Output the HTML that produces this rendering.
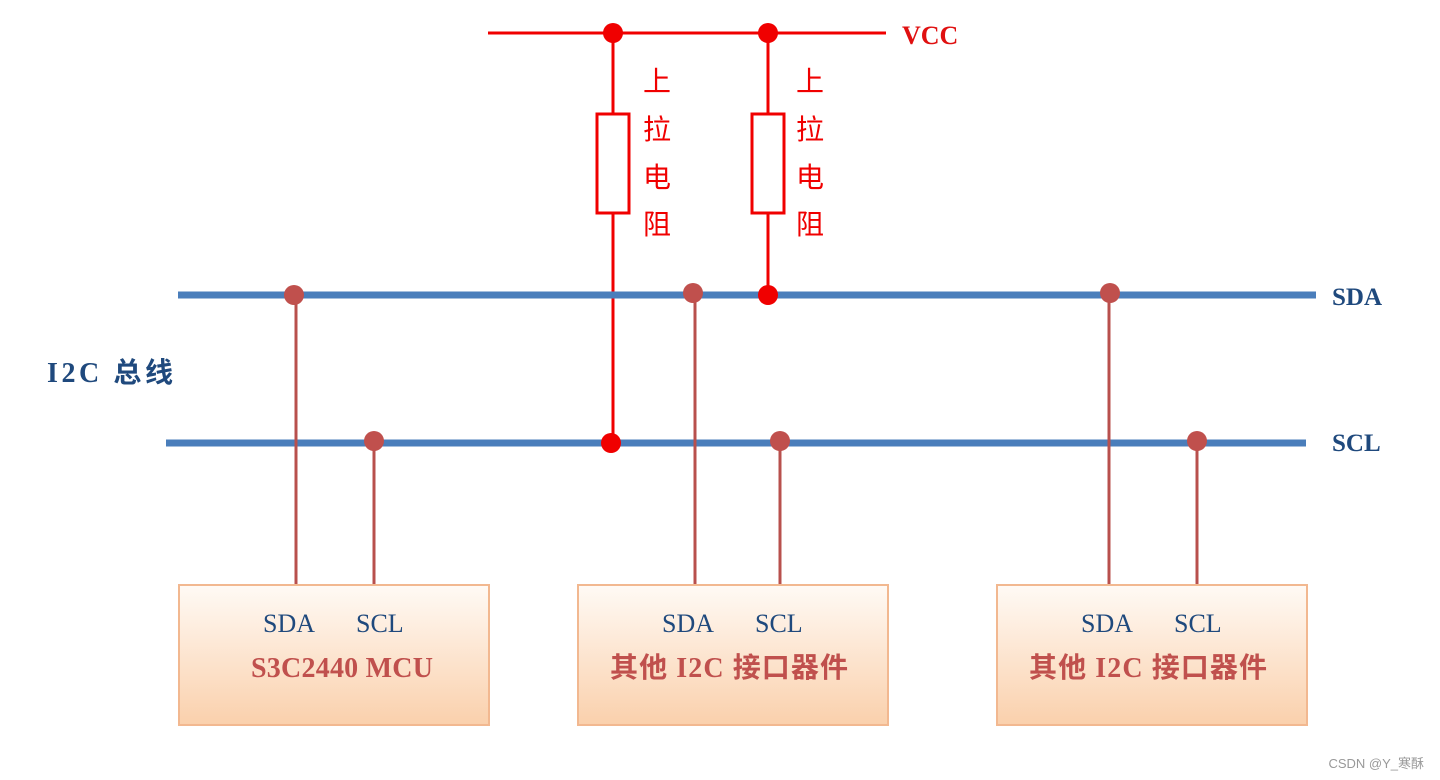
<!DOCTYPE html>
<html><head><meta charset="utf-8"><style>
html,body{margin:0;padding:0;background:#fff;width:1440px;height:780px;overflow:hidden}
</style></head><body>
<svg width="1440" height="780" xmlns="http://www.w3.org/2000/svg">
<defs>
<linearGradient id="g" x1="0" y1="0" x2="0" y2="1">
<stop offset="0" stop-color="#fffaf5"/><stop offset="1" stop-color="#fad0ac"/>
</linearGradient>
</defs>
<line x1="488" y1="33" x2="886" y2="33" stroke="#f00000" stroke-width="3"/>
<line x1="613" y1="33" x2="613" y2="443" stroke="#f00000" stroke-width="3"/>
<line x1="768" y1="33" x2="768" y2="295" stroke="#f00000" stroke-width="3"/>
<rect x="597" y="114" width="32" height="99" fill="#fff" stroke="#f00000" stroke-width="3"/>
<rect x="752" y="114" width="32" height="99" fill="#fff" stroke="#f00000" stroke-width="3"/>
<g fill="#f00000" font-size="28" text-anchor="middle" style="font-family:'Noto Sans CJK SC',sans-serif">
<text x="657" y="91">上</text><text x="657" y="139">拉</text><text x="657" y="187">电</text><text x="657" y="234">阻</text>
<text x="810" y="91">上</text><text x="810" y="139">拉</text><text x="810" y="187">电</text><text x="810" y="234">阻</text>
</g>
<text x="902" y="44" fill="#e01010" font-size="26" font-weight="bold" style="font-family:'Liberation Serif',serif">VCC</text>
<line x1="178" y1="295" x2="1316" y2="295" stroke="#4a7ebb" stroke-width="7"/>
<line x1="166" y1="443" x2="1306" y2="443" stroke="#4a7ebb" stroke-width="7"/>
<circle cx="613" cy="33" r="10" fill="#f00000"/><circle cx="768" cy="33" r="10" fill="#f00000"/>
<circle cx="768" cy="295" r="10" fill="#f00000"/><circle cx="611" cy="443" r="10" fill="#f00000"/>
<g stroke="#b8504d" stroke-width="3">
<line x1="296" y1="295" x2="296" y2="585"/><line x1="374" y1="441" x2="374" y2="585"/>
<line x1="695" y1="293" x2="695" y2="585"/><line x1="780" y1="441" x2="780" y2="585"/>
<line x1="1109" y1="293" x2="1109" y2="585"/><line x1="1197" y1="441" x2="1197" y2="585"/>
</g>
<g fill="#c0504d">
<circle cx="294" cy="295" r="10"/><circle cx="693" cy="293" r="10"/><circle cx="1110" cy="293" r="10"/>
<circle cx="374" cy="441" r="10"/><circle cx="780" cy="441" r="10"/><circle cx="1197" cy="441" r="10"/>
</g>
<text x="1332" y="305" fill="#1f497d" font-size="25" font-weight="bold" style="font-family:'Liberation Serif',serif">SDA</text>
<text x="1332" y="451" fill="#1f497d" font-size="25" font-weight="bold" style="font-family:'Liberation Serif',serif">SCL</text>
<text x="47" y="382" fill="#1f497d" font-size="28" font-weight="bold" textLength="126" lengthAdjust="spacing" style="font-family:'Liberation Serif','Noto Sans CJK SC',serif">I2C 总线</text>
<g stroke="#f2b890" stroke-width="2" fill="url(#g)">
<rect x="179" y="585" width="310" height="140"/>
<rect x="578" y="585" width="310" height="140"/>
<rect x="997" y="585" width="310" height="140"/>
</g>
<g fill="#1f497d" font-size="26" style="font-family:'Liberation Serif',serif">
<text x="263" y="632">SDA</text><text x="356" y="632">SCL</text>
<text x="662" y="632">SDA</text><text x="755" y="632">SCL</text>
<text x="1081" y="632">SDA</text><text x="1174" y="632">SCL</text>
</g>
<g fill="#c0504d" font-size="28" font-weight="bold" style="font-family:'Liberation Serif','Noto Sans CJK SC',serif">
<text x="251" y="677" textLength="182" lengthAdjust="spacing">S3C2440 MCU</text>
<text x="610" y="677" textLength="238" lengthAdjust="spacing">其他 I2C 接口器件</text>
<text x="1029" y="677" textLength="238" lengthAdjust="spacing">其他 I2C 接口器件</text>
</g>
<text x="1424" y="768" fill="#999" font-size="13" text-anchor="end" style="font-family:'Liberation Sans','Noto Sans CJK SC',sans-serif">CSDN @Y_寒酥</text>
</svg>
</body></html>
